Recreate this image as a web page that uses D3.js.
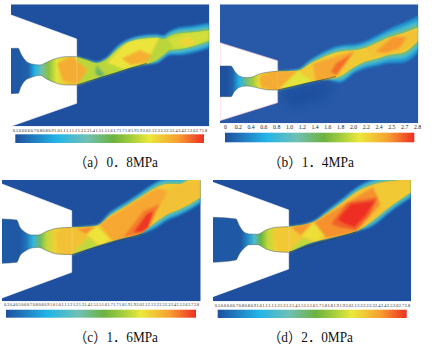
<!DOCTYPE html>
<html>
<head>
<meta charset="utf-8">
<style>
html, body { margin: 0; padding: 0; background: #fff; }
.tick text { font-family: "Liberation Serif", serif; fill: #222; }
</style>
<script src="https://cdn.jsdelivr.net/npm/d3@7"></script>
</head>
<body>
<div class="chart"></div>
<script>
// colour ramp of the Mach number legend
const rampStops = [0, 0.22, 0.38, 0.52, 0.62, 0.71, 0.86, 1];
const rampColors = ["#1f4f9f", "#22b5e8", "#70c0b4", "#6cb33f", "#a8cf3c", "#ece83a", "#f7a030", "#ee2e24"];

// tick labels of the four legends
const ticksA = ["0.5","0.6","0.6","0.7","0.8","0.8","0.9","1.0","1.1","1.1","1.2","1.3","1.3","1.4","1.5","1.5","1.6","1.7","1.7","1.8","1.9","1.9","2.0","2.1","2.2","2.2","2.3","2.4","2.4","2.5","2.6","2.7","1.8"];
const ticksB = ["0","0.2","0.4","0.6","0.8","1.0","1.2","1.4","1.6","1.8","2.0","2.2","2.4","2.5","2.7","2.8"];
const ticksC = ["0.3","0.4","0.5","0.6","0.7","0.8","0.8","0.9","1.0","1.0","1.1","1.2","1.2","1.3","1.4","1.5","1.5","1.6","1.7","1.7","1.8","1.9","1.9","2.0","2.1","2.1","2.2","2.3","2.3","2.4","2.5","2.6","2.7","2.8"];
const ticksD = ["0.5","0.6","0.6","0.7","0.8","0.8","0.9","1.0","1.1","1.1","1.2","1.3","1.3","1.4","1.5","1.5","1.6","1.7","1.8","1.8","1.9","1.9","2.0","2.1","2.2","2.2","2.3","2.4","2.4","2.5","2.6","2.7","2.8"];

// (a) 0.8 MPa
const jetXA = [230, 260, 290, 320, 350, 385, 420, 470, 490, 510, 540, 580, 628];
const jetTopA = [170, 180, 190, 178, 150, 127, 117, 113, 118, 108, 100, 97, 90];
const jetBottomA = [255, 245, 235, 226, 217, 205, 196, 180, 165, 150, 147, 138, 122];
const jetSpreadA = [0, 2, 5, 6, 10, 10, 10, 10, 12, 15, 18, 20, 22];
const wallA = [[33,45],[230,117],[230,310],[33,379]];
const nozzleTopA = [[33,145],[55,145],[62,160],[75,180],[95,192],[120,195],[140,187],[170,175],[200,170],[230,170]];
const nozzleBottomA = [[33,281],[55,280],[62,262],[75,242],[95,232],[120,226],[140,237],[170,250],[200,255],[230,255]];
const rampA = [[230,255],[440,190]];
const nozzleMachA = [[60,0.55],[85,0.6],[105,1.0],[125,1.4],[145,1.8],[170,2.1],[200,2.3]];
const shadeA = [];
const cellsA = [
  { v: 1.98, pts: [[230,13],[628,13],[628,379],[230,379]] },
  { v: 2.42, pts: [[172,190],[215,172],[262,208],[235,252],[188,240]] },
  { v: 1.6, pts: [[290,195],[315,225],[300,232],[285,220]] },
  { v: 2.15, pts: [[322,188],[385,122],[478,112],[440,190],[370,207]] },
  { v: 2.4, pts: [[365,175],[420,150],[455,165],[440,188],[390,195]] },
  { v: 2.05, pts: [[505,118],[560,98],[628,92],[628,115],[570,145],[520,145]] },
  { v: 2.22, pts: [[535,122],[562,108],[588,125],[560,140]] }
];

// (b) 1.4 MPa
const jetXB = [185, 245, 285, 330, 370, 420, 445, 480, 520, 560, 607];
const jetTopB = [214, 212, 190, 168, 155, 150, 145, 130, 112, 100, 82];
const jetBottomB = [270, 255, 245, 238, 230, 198, 186, 176, 164, 158, 122];
const jetSpreadB = [0, 4, 12, 16, 18, 18, 20, 22, 25, 30, 35];
const wallB = [[12,128],[185,182],[185,308],[12,362]];
const nozzleTopB = [[12,198],[45,198],[55,212],[70,228],[90,233],[105,232],[130,222],[160,216],[185,214]];
const nozzleBottomB = [[12,290],[45,290],[55,275],[70,262],[90,258],[105,259],[130,265],[160,270],[185,270]];
const rampB = [[185,270],[360,230]];
const nozzleMachB = [[30,0.5],[50,0.6],[70,1.0],[90,1.5],[110,1.9],[130,2.2],[170,2.4]];
const shadeB = [[190,275],[350,238],[330,295],[230,325]];
const cellsB = [
  { v: 2.28, pts: [[185,13],[607,13],[607,370],[185,370]] },
  { v: 2.42, pts: [[130,228],[185,214],[245,212],[185,270],[135,262]] },
  { v: 2.1, pts: [[245,213],[295,248],[190,268]] },
  { v: 2.45, pts: [[290,192],[415,152],[360,230],[300,245]] },
  { v: 2.62, pts: [[360,190],[412,158],[362,226],[345,215]] },
  { v: 2.32, pts: [[450,145],[520,112],[607,90],[607,120],[550,158],[490,165],[470,170]] },
  { v: 2.5, pts: [[480,155],[530,110],[572,112],[550,145],[510,158]] }
];

// (c) 1.6 MPa
const jetXC = [215, 290, 330, 380, 420, 460, 500, 540, 570, 602];
const jetTopC = [160, 155, 125, 95, 70, 45, 30, 30, 18, 18];
const jetBottomC = [242, 215, 203, 190, 180, 150, 122, 105, 90, 70];
const jetSpreadC = [0, 2, 10, 12, 14, 16, 18, 18, 18, 18];
const wallC = [[6,30],[215,110],[215,295],[6,372]];
const nozzleTopC = [[6,135],[50,138],[60,160],[75,175],[95,183],[115,183],[140,172],[170,163],[215,160]];
const nozzleBottomC = [[6,268],[50,265],[60,245],[75,232],[95,222],[115,220],[140,230],[170,240],[215,242]];
const rampC = [[215,242],[425,180]];
const nozzleMachC = [[60,0.55],[80,0.7],[100,1.1],[120,1.6],[140,2.0],[165,2.25],[200,2.35]];
const shadeC = [];
const cellsC = [
  { v: 2.28, pts: [[215,13],[602,13],[602,382],[215,382]] },
  { v: 2.32, pts: [[165,180],[215,160],[290,155],[215,240],[175,225]] },
  { v: 2.52, pts: [[230,165],[285,157],[260,180]] },
  { v: 2.15, pts: [[260,180],[290,157],[330,195],[300,215]] },
  { v: 2.0, pts: [[215,240],[265,190],[295,215]] },
  { v: 2.44, pts: [[296,150],[470,42],[505,50],[430,182],[340,204]] },
  { v: 2.58, pts: [[370,190],[430,110],[480,90],[440,175]] },
  { v: 2.78, pts: [[400,175],[440,120],[460,110],[445,160],[425,175]] },
  { v: 2.32, pts: [[500,50],[540,30],[602,18],[602,72],[540,105],[470,145]] }
];

// (d) 2.0 MPa
const jetXD = [218, 290, 330, 380, 420, 470, 520, 555, 585];
const jetTopD = [158, 145, 120, 85, 55, 32, 22, 18, 18];
const jetBottomD = [235, 205, 195, 183, 172, 140, 100, 75, 55];
const jetSpreadD = [0, 3, 8, 12, 14, 16, 16, 16, 16];
const wallD = [[-9,25],[218,108],[218,285],[-9,368]];
const nozzleTopD = [[-9,130],[60,135],[70,155],[85,175],[100,180],[125,181],[150,168],[180,160],[218,158]];
const nozzleBottomD = [[-9,265],[60,258],[70,240],[85,222],[100,212],[125,212],[150,225],[180,233],[218,235]];
const rampD = [[218,235],[420,174]];
const nozzleMachD = [[75,0.55],[95,0.8],[115,1.2],[135,1.7],[155,2.0],[180,2.25],[210,2.35]];
const shadeD = [];
const cellsD = [
  { v: 2.32, pts: [[218,13],[585,13],[585,382],[218,382]] },
  { v: 2.28, pts: [[170,170],[218,158],[225,160],[270,190],[218,235],[180,225]] },
  { v: 2.5, pts: [[225,160],[290,145],[255,185]] },
  { v: 2.18, pts: [[255,185],[290,148],[340,175],[300,205]] },
  { v: 2.0, pts: [[218,235],[262,190],[295,210]] },
  { v: 2.52, pts: [[295,145],[470,40],[495,90],[420,175],[330,192]] },
  { v: 2.66, pts: [[345,150],[395,85],[485,70],[460,125],[420,168],[370,160]] },
  { v: 2.8, pts: [[365,135],[405,90],[478,80],[450,122],[415,160],[382,148]] },
  { v: 2.28, pts: [[475,32],[585,20],[585,58],[520,103],[495,100]] }
];

const captions = ["（a）0．8MPa", "（b）1．4MPa", "（c）1．6MPa", "（d）2．0MPa"];

const panels = [
  { id: "a", jetX: jetXA, jetTop: jetTopA, jetBottom: jetBottomA, jetSpread: jetSpreadA, wall: wallA, nozzleTop: nozzleTopA, nozzleBottom: nozzleBottomA, ramp: rampA, nozzleMach: nozzleMachA, shade: shadeA, cells: cellsA, ticks: ticksA, caption: captions[0],
    domX: [33, 628], domY: [13, 379], rangeX: [11, 209.3], rangeY: [4.3, 126.3], bar: [15.3, 204, 134.3, 143], tickY: 128.8, tickSize: 4.4, tickX: [15, 204], capX: [74, 158], capY: 167, back: "#1f4f9f" },
  { id: "b", jetX: jetXB, jetTop: jetTopB, jetBottom: jetBottomB, jetSpread: jetSpreadB, wall: wallB, nozzleTop: nozzleTopB, nozzleBottom: nozzleBottomB, ramp: rampB, nozzleMach: nozzleMachB, shade: shadeB, cells: cellsB, ticks: ticksB, caption: captions[1],
    domX: [12, 607], domY: [13, 370], rangeX: [220, 418.3], rangeY: [4.3, 123.3], bar: [225, 414.3, 132.7, 142.3], tickY: 124.8, tickSize: 5.8, tickX: [225, 417], capX: [268, 354], capY: 167, back: "#2759a8" },
  { id: "c", jetX: jetXC, jetTop: jetTopC, jetBottom: jetBottomC, jetSpread: jetSpreadC, wall: wallC, nozzleTop: nozzleTopC, nozzleBottom: nozzleBottomC, ramp: rampC, nozzleMach: nozzleMachC, shade: shadeC, cells: cellsC, ticks: ticksC, caption: captions[2],
    domX: [6, 602], domY: [18, 382], rangeX: [2, 200.7], rangeY: [180, 301.3], bar: [6, 196, 309.7, 317.7], tickY: 303.5, tickSize: 4.2, tickX: [6, 196], capX: [74, 158], capY: 342, back: "#1f4f9f" },
  { id: "d", jetX: jetXD, jetTop: jetTopD, jetBottom: jetBottomD, jetSpread: jetSpreadD, wall: wallD, nozzleTop: nozzleTopD, nozzleBottom: nozzleBottomD, ramp: rampD, nozzleMach: nozzleMachD, shade: shadeD, cells: cellsD, ticks: ticksD, caption: captions[3],
    domX: [-9, 585], domY: [18, 382], rangeX: [213, 411], rangeY: [180, 301.3], bar: [217.7, 406.7, 309.7, 318], tickY: 303.5, tickSize: 4.4, tickX: [217, 407], capX: [268, 353], capY: 342, back: "#1f4f9f" }
];

const width = 432, height = 347;

const machColor = d3.scaleLinear()
  .domain(rampStops.map(d => 0.5 + d * 2.3))
  .range(rampColors)
  .clamp(true);

const svg = d3.select(".chart").append("svg")
  .attr("width", width)
  .attr("height", height)
  .style("display", "block");

const defs = svg.append("defs");
[["soft", 1.2], ["softer", 5]].forEach(f => {
  defs.append("filter").attr("id", f[0])
    .attr("x", "-20%").attr("y", "-20%").attr("width", "140%").attr("height", "140%")
    .append("feGaussianBlur").attr("stdDeviation", f[1]);
});

function drawPanel(p) {
  const x = d3.scaleLinear().domain(p.domX).range(p.rangeX);
  const y = d3.scaleLinear().domain(p.domY).range(p.rangeY);
  const g = svg.append("g").attr("class", "panel-" + p.id);

  defs.append("clipPath").attr("id", "plot-" + p.id).append("rect")
    .attr("x", p.rangeX[0]).attr("y", p.rangeY[0])
    .attr("width", p.rangeX[1] - p.rangeX[0]).attr("height", p.rangeY[1] - p.rangeY[0]);

  const plot = g.append("g").attr("clip-path", "url(#plot-" + p.id + ")");
  plot.append("rect")
    .attr("x", p.rangeX[0]).attr("y", p.rangeY[0])
    .attr("width", p.rangeX[1] - p.rangeX[0]).attr("height", p.rangeY[1] - p.rangeY[0])
    .attr("fill", p.back);

  const poly = d3.line().x(d => x(d[0])).y(d => y(d[1]));

  if (p.shade.length) {
    plot.append("path").attr("d", poly(p.shade) + "Z")
      .attr("fill", machColor(0.5)).attr("filter", "url(#softer)");
  }

  // shear layer round the jet, widest layer first; no layer under the ramp wall
  const rampEndX = p.ramp[p.ramp.length - 1][0];
  const layers = [[1, 0.85], [0.62, 1.15], [0.3, 1.5], [0, 1.8]];
  const jetRows = p.jetX.map((d, i) => ({ x: d, top: p.jetTop[i], bottom: p.jetBottom[i], spread: p.jetSpread[i] }));
  const jet = plot.append("g").attr("filter", "url(#soft)");
  layers.forEach(l => {
    jet.append("path")
      .datum(jetRows)
      .attr("fill", machColor(l[1]))
      .attr("d", d3.area().curve(d3.curveMonotoneX)
        .x(d => x(d.x))
        .y0(d => y(d.top - d.spread * l[0]))
        .y1(d => y(d.bottom + (d.x <= rampEndX ? 0 : d.spread * l[0]))));
  });

  // shock cells, clipped to the jet core
  defs.append("clipPath").attr("id", "core-" + p.id).append("path")
    .attr("d", d3.area().curve(d3.curveMonotoneX)
      .x(d => x(d.x)).y0(d => y(d.top)).y1(d => y(d.bottom))(jetRows));
  const jetCells = plot.append("g").attr("clip-path", "url(#core-" + p.id + ")")
    .append("g").attr("filter", "url(#soft)");
  jetCells.selectAll("path").data(p.cells)
    .enter().append("path")
    .attr("d", c => poly(c.pts) + "Z")
    .attr("fill", c => machColor(c.v));

  // nozzle wall
  plot.append("path").attr("d", poly(p.wall) + "Z").attr("fill", "#fff")
    .attr("stroke", p.id === "b" ? "#eeb6c8" : "#fff").attr("stroke-width", 0.6);

  // converging-diverging passage inside the wall
  const gradId = "nozzle-" + p.id;
  const grad = defs.append("linearGradient").attr("id", gradId)
    .attr("gradientUnits", "userSpaceOnUse")
    .attr("x1", x(p.nozzleMach[0][0])).attr("x2", x(p.nozzleMach[p.nozzleMach.length - 1][0]))
    .attr("y1", 0).attr("y2", 0);
  const span = p.nozzleMach[p.nozzleMach.length - 1][0] - p.nozzleMach[0][0];
  p.nozzleMach.forEach(d => {
    grad.append("stop").attr("offset", (d[0] - p.nozzleMach[0][0]) / span).attr("stop-color", machColor(d[1]));
  });
  const curved = d3.line().curve(d3.curveMonotoneX).x(d => x(d[0])).y(d => y(d[1]));
  const passage = curved(p.nozzleTop) + "L" + curved(p.nozzleBottom.slice().reverse()).slice(1) + "Z";
  plot.append("path").attr("d", passage).attr("fill", "url(#" + gradId + ")");

  // the exit cell starts inside the passage, the other cells stay in the jet
  defs.append("clipPath").attr("id", "passage-" + p.id).append("path").attr("d", passage);
  plot.append("g").attr("clip-path", "url(#passage-" + p.id + ")")
    .append("g").attr("filter", "url(#soft)")
    .selectAll("path").data(p.cells.filter(c => d3.min(c.pts, d => d[0]) < p.jetX[0] - 1))
    .enter().append("path")
    .attr("d", c => poly(c.pts) + "Z")
    .attr("fill", c => machColor(c.v));

  [p.nozzleTop, p.nozzleBottom].forEach(edge => {
    plot.append("path").attr("d", curved(edge))
      .attr("fill", "none").attr("stroke", "#44606a").attr("stroke-width", 0.5);
  });
  plot.append("path").attr("d", poly(p.ramp))
    .attr("fill", "none").attr("stroke", "#2d3a4a").attr("stroke-width", 0.6);

  // legend bar
  const barId = "bar-" + p.id;
  const barGrad = defs.append("linearGradient").attr("id", barId);
  rampStops.forEach((d, i) => {
    barGrad.append("stop").attr("offset", d).attr("stop-color", rampColors[i]);
  });
  g.append("rect")
    .attr("x", p.bar[0]).attr("y", p.bar[2])
    .attr("width", p.bar[1] - p.bar[0]).attr("height", p.bar[3] - p.bar[2])
    .attr("fill", "url(#" + barId + ")");

  const tickScale = d3.scalePoint().domain(d3.range(p.ticks.length)).range(p.tickX);
  const axis = g.append("g")
    .attr("transform", "translate(0," + p.tickY + ")")
    .call(d3.axisBottom(tickScale).tickSize(0).tickPadding(0).tickFormat(i => p.ticks[i]));
  axis.select(".domain").remove();
  axis.selectAll("text").attr("font-size", p.tickSize);

  g.append("text")
    .attr("x", p.capX[0]).attr("y", p.capY)
    .attr("textLength", p.capX[1] - p.capX[0])
    .attr("lengthAdjust", "spacingAndGlyphs")
    .attr("font-family", '"Liberation Serif", "Noto Sans CJK SC", serif')
    .attr("font-size", 14)
    .attr("fill", "#111")
    .text(p.caption);
}

panels.forEach(drawPanel);
</script>
</body>
</html>
